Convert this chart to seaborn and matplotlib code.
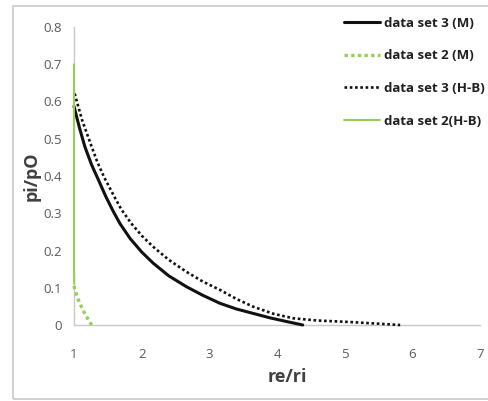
import matplotlib
matplotlib.use("Agg")
import matplotlib.pyplot as plt
import seaborn as sns
from matplotlib.patches import Rectangle

# Data
ds3_m_x = [1.00, 1.08, 1.16, 1.26, 1.36, 1.47, 1.58, 1.68, 1.83, 2.00, 2.17, 2.40, 2.66, 2.90, 3.16, 3.40, 3.65, 3.90, 4.15, 4.38]
ds3_m_y = [0.587, 0.53, 0.479, 0.43, 0.39, 0.345, 0.305, 0.272, 0.232, 0.196, 0.166, 0.132, 0.103, 0.080, 0.058, 0.043, 0.031, 0.019, 0.009, 0.0]

ds2_m_x = [1.00, 1.04, 1.08, 1.11, 1.16, 1.21, 1.26]
ds2_m_y = [0.105, 0.08, 0.06, 0.049, 0.03, 0.015, 0.0]

ds3_hb_x = [1.01, 1.12, 1.26, 1.35, 1.45, 1.58, 1.70, 1.85, 2.00, 2.17, 2.40, 2.66, 2.90, 3.16, 3.40, 3.65, 3.95, 4.24, 4.60, 5.08, 5.45, 5.82]
ds3_hb_y = [0.621, 0.55, 0.479, 0.435, 0.395, 0.35, 0.31, 0.272, 0.24, 0.21, 0.175, 0.143, 0.117, 0.094, 0.070, 0.049, 0.030, 0.018, 0.012, 0.008, 0.004, 0.0]

ds2_hb_x = [1.00, 1.00, 1.00, 1.003]
ds2_hb_y = [0.70, 0.40, 0.15, 0.11]

labels = ["data set 3 (M)", "data set 2 (M)", "data set 3 (H-B)", "data set 2(H-B)"]
x_ticks = [1, 2, 3, 4, 5, 6, 7]
y_ticks = [0, 0.1, 0.2, 0.3, 0.4, 0.5, 0.6, 0.7, 0.8]

sns.set_theme(style="white")
plt.rcParams['font.family'] = ['Open Sans', 'DejaVu Sans']

fig = plt.figure(figsize=(4.89, 4.01), dpi=100)
fig.patches.append(Rectangle((13/489, 1-399/401), 1.0, 393/401, transform=fig.transFigure,
                             fill=False, edgecolor="#c8c8c8", linewidth=1.2))
ax = fig.add_axes([74/489, 1-325/401, (480-74)/489, (325-27)/401])

black = "#111111"
green = "#92d050"

sns.lineplot(x=ds3_m_x, y=ds3_m_y, ax=ax, color=black, linewidth=2.2, label=labels[0],
             sort=False, estimator=None)
sns.lineplot(x=ds2_m_x, y=ds2_m_y, ax=ax, color=green, linewidth=2.4, linestyle=(0, (1, 1)),
             label=labels[1], sort=False, estimator=None)
sns.lineplot(x=ds3_hb_x, y=ds3_hb_y, ax=ax, color=black, linewidth=1.9, linestyle=(0, (1, 1)),
             label=labels[2], sort=False, estimator=None)
sns.lineplot(x=ds2_hb_x, y=ds2_hb_y, ax=ax, color=green, linewidth=1.4, label=labels[3],
             sort=False, estimator=None)
for ln in ax.get_lines():
    ln.set_clip_on(False)
    ln.set_zorder(5)

ax.set_xlim(1, 7)
ax.set_ylim(0, 0.8)
ax.set_xticks(x_ticks)
ax.set_yticks(y_ticks)
ax.set_xticklabels([str(t) for t in x_ticks])
ax.set_yticklabels(["0"] + [f"{t:.1f}" for t in y_ticks[1:]])

for s in ["top", "right"]:
    ax.spines[s].set_visible(False)
for s in ["left", "bottom"]:
    ax.spines[s].set_color("#c8c8c8")
    ax.spines[s].set_linewidth(1.0)
    ax.spines[s].set_zorder(1)

ax.tick_params(axis="both", which="both", direction="out", length=3.8, width=1, color="#c8c8c8",
               labelcolor="#595959", labelsize=9.5)
ax.tick_params(axis="x", pad=13)
ax.tick_params(axis="y", pad=5)

ax.set_xlabel("re/ri", fontsize=13, fontweight="bold", color="#404040", labelpad=1)
ax.xaxis.set_label_coords(0.525, -0.145)
ax.set_ylabel("pi/pO", fontsize=13, fontweight="bold", color="#404040", labelpad=2)

leg = ax.legend(loc="upper right", bbox_to_anchor=(1.04, 1.075), frameon=False, fontsize=9.5,
                handlelength=2.7, handletextpad=0.3, labelspacing=1.5)
for t in leg.get_texts():
    t.set_color("#202020")
    t.set_fontweight("bold")

fig.savefig("out.png", dpi=100)
